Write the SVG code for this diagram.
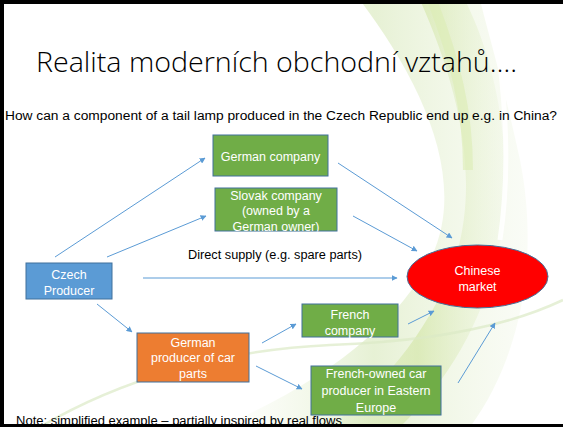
<svg xmlns="http://www.w3.org/2000/svg" width="563" height="427" viewBox="0 0 563 427">
<defs>
<style>
.box{stroke:#41719C;stroke-width:1}
.g{fill:#70AD47}
.b{fill:#5B9BD5}
.o{fill:#ED7D31}
.t{font-family:"Liberation Sans",Arial,sans-serif;font-size:12.5px;fill:#ffffff;text-anchor:middle}
.k{font-family:"Liberation Sans",Arial,sans-serif;font-size:12px;fill:#000000}
.c line{stroke:#5B9BD5;stroke-width:1;marker-end:url(#ah)}
</style>
<marker id="ah" viewBox="0 0 10 10" refX="9" refY="5" markerWidth="6" markerHeight="6" markerUnits="userSpaceOnUse" orient="auto">
<path d="M0,0 L10,5 L0,10 z" fill="#5B9BD5"/>
</marker>
<linearGradient id="sw1" x1="0" y1="0" x2="1" y2="0">
<stop offset="0" stop-color="#e8f2d8" stop-opacity="0"/>
<stop offset="0.5" stop-color="#dcebc2" stop-opacity="0.7"/>
<stop offset="1" stop-color="#eef5e2" stop-opacity="0.3"/>
</linearGradient>
<linearGradient id="sw2" x1="0" y1="0" x2="1" y2="0">
<stop offset="0" stop-color="#d6e7b4" stop-opacity="0.2"/>
<stop offset="0.5" stop-color="#d0e4a0" stop-opacity="0.6"/>
<stop offset="1" stop-color="#e3efcd" stop-opacity="0.2"/>
</linearGradient>
<clipPath id="slc"><rect x="215" y="188" width="122" height="43.5"/></clipPath>
</defs>
<rect width="563" height="427" fill="#ffffff"/>
<g id="background">
<path d="M360,0 C420,80 470,180 430,260 C400,320 330,380 220,427 L470,427 C520,360 540,260 520,160 C505,90 490,40 480,0 z" fill="url(#sw1)"/>
<path d="M420,0 C460,90 480,180 455,260 C435,320 390,380 330,427 L400,427 C460,370 500,290 505,200 C508,120 490,50 465,0 z" fill="url(#sw2)"/>
<path d="M432,0 C455,60 468,110 468,170" fill="none" stroke="#dcecb4" stroke-width="10" opacity="0.6"/>
<path d="M490,0 C505,80 512,160 500,240" fill="none" stroke="#ffffff" stroke-width="5" opacity="0.9"/>
<path d="M40,427 C120,380 220,350 330,345 C420,342 500,330 563,300" fill="none" stroke="#dbe9c6" stroke-width="2.5" opacity="0.7"/>
</g>
<text x="36" y="72" font-family="'Open Sans','Liberation Sans',sans-serif" font-weight="300" font-size="27" fill="#000000" textLength="481" lengthAdjust="spacingAndGlyphs">Realita moderních obchodní vztahů….</text>
<text class="k" x="5" y="120" textLength="552" lengthAdjust="spacingAndGlyphs">How can a component of a tail lamp produced in the Czech Republic end up e.g. in China?</text>
<g id="connectors" class="c">
<line x1="55" y1="257" x2="205" y2="158"/>
<line x1="107" y1="257" x2="206" y2="216"/>
<line x1="143" y1="278" x2="397" y2="278"/>
<line x1="338" y1="163" x2="452" y2="238"/>
<line x1="353" y1="216" x2="417" y2="251"/>
<line x1="97" y1="304" x2="132" y2="332"/>
<line x1="262" y1="343" x2="296" y2="324"/>
<line x1="256" y1="366" x2="302" y2="389"/>
<line x1="408" y1="324" x2="434" y2="311"/>
<line x1="458" y1="383" x2="495" y2="323"/>
</g>
<text class="k" x="188" y="259" textLength="174" lengthAdjust="spacingAndGlyphs">Direct supply (e.g. spare parts)</text>
<g id="german-company">
<rect class="box g" x="213" y="135" width="115" height="41"/>
<text class="t" x="270.5" y="161">German company</text>
</g>
<g id="slovak-company">
<rect class="box g" x="215" y="188" width="122" height="43"/>
<g clip-path="url(#slc)">
<text class="t" x="276" y="199.5">Slovak company</text>
<text class="t" x="276" y="215">(owned by a</text>
<text class="t" x="276" y="231">German owner)</text>
</g>
</g>
<g id="czech-producer">
<rect class="box b" x="26" y="263" width="86" height="36"/>
<text class="t" x="69" y="278.5">Czech</text>
<text class="t" x="69" y="295">Producer</text>
</g>
<g id="chinese-market">
<ellipse cx="477.5" cy="276.5" rx="70.5" ry="31.5" fill="#FF0000" stroke="#41719C" stroke-width="1"/>
<text class="t" x="477.5" y="274.5">Chinese</text>
<text class="t" x="477.5" y="291">market</text>
</g>
<g id="german-producer">
<rect class="box o" x="137" y="333" width="112" height="49"/>
<text class="t" x="193" y="346.5">German</text>
<text class="t" x="193" y="362">producer of car</text>
<text class="t" x="193" y="378">parts</text>
</g>
<g id="french-company">
<rect class="box g" x="302" y="304" width="96" height="33"/>
<text class="t" x="350" y="318.5">French</text>
<text class="t" x="350" y="335">company</text>
</g>
<g id="french-owned">
<rect class="box g" x="311" y="366" width="130" height="49"/>
<text class="t" x="376" y="377.5">French-owned car</text>
<text class="t" x="376" y="395">producer in Eastern</text>
<text class="t" x="376" y="411.5">Europe</text>
</g>
<text class="k" x="16" y="424.5" textLength="326" lengthAdjust="spacingAndGlyphs">Note: simplified example – partially inspired by real flows</text>
<g id="frame">
<rect x="0" y="0" width="563" height="4" fill="#000000"/>
<rect x="0" y="0" width="4" height="427" fill="#000000"/>
<rect x="0" y="424" width="563" height="3" fill="#000000"/>
</g>
</svg>
